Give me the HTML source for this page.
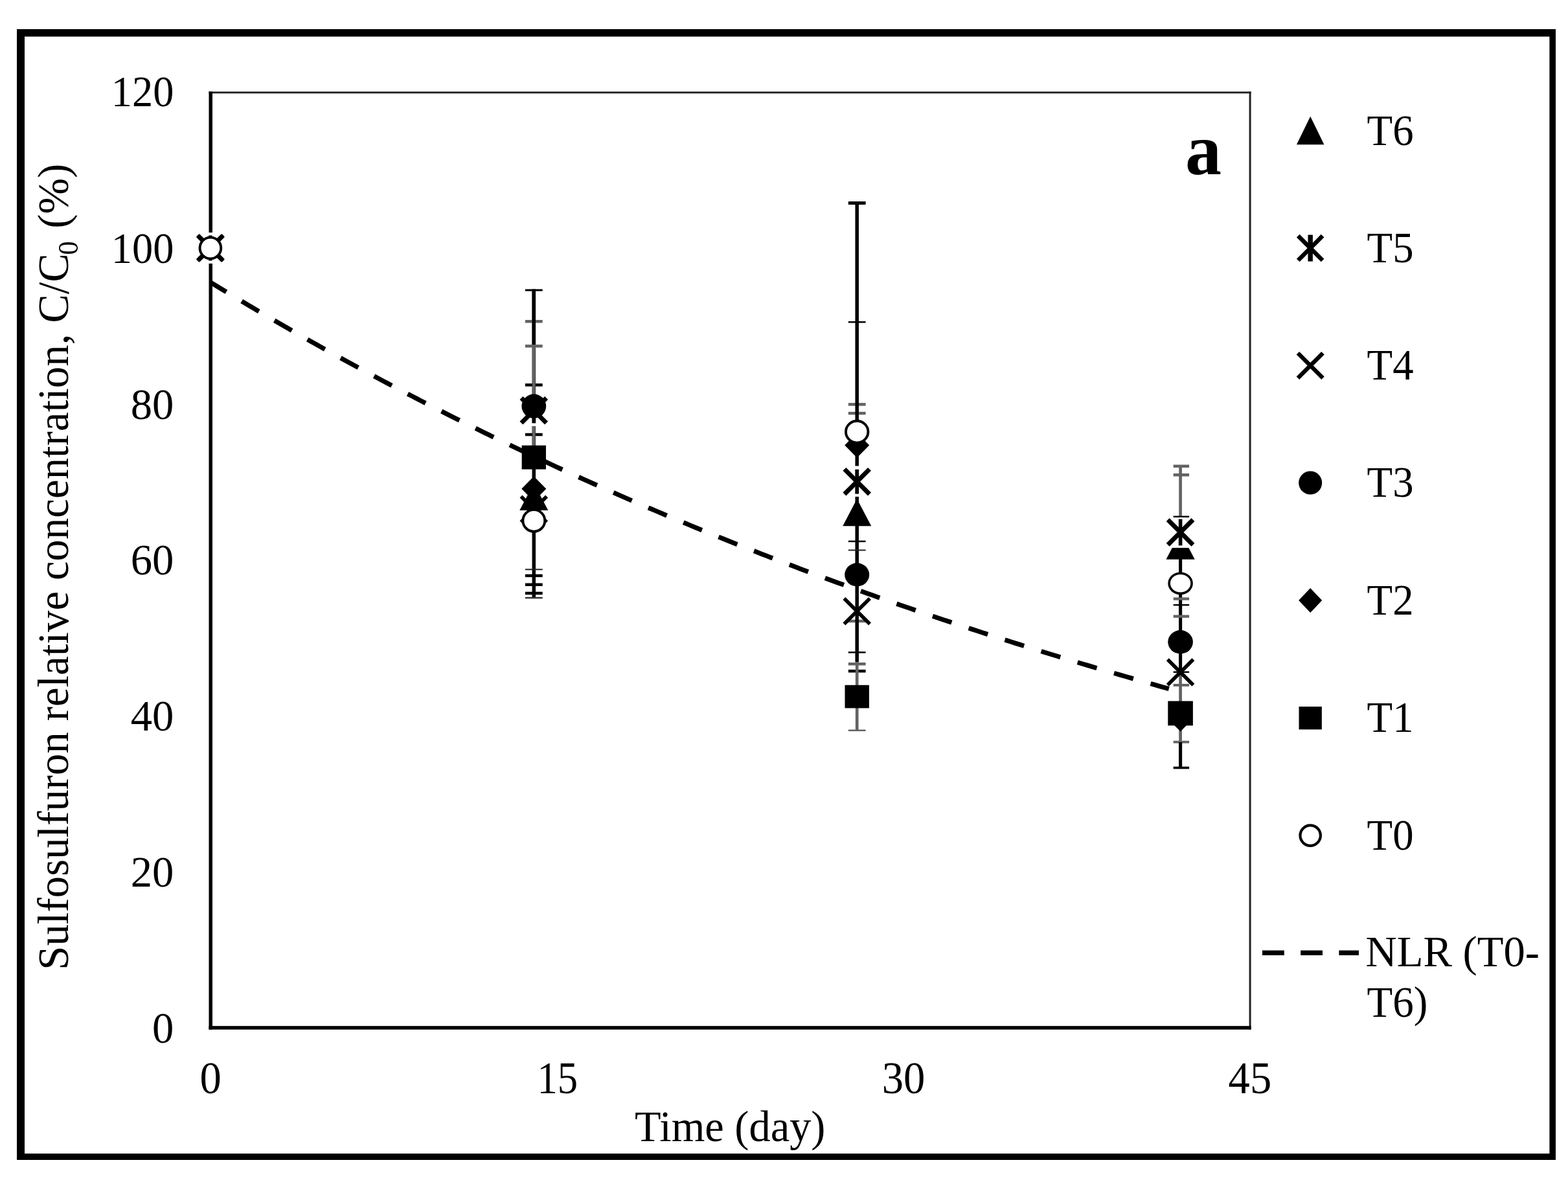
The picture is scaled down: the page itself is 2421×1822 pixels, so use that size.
<!DOCTYPE html>
<html lang="en"><head><meta charset="utf-8"><title>Sulfosulfuron relative concentration</title>
<style>html,body{margin:0;padding:0;background:#fff}body{width:2421px;height:1822px;overflow:hidden}svg{display:block}text{font-family:"Liberation Serif",serif;fill:#000}</style>
</head><body>
<svg width="2421" height="1822" viewBox="0 0 2421 1822">
<rect x="0" y="0" width="2421" height="1822" fill="#fff"/>
<g fill="#000">
<rect x="26" y="45" width="2376" height="11.5"/>
<rect x="26" y="1781.2" width="2376" height="9.8"/>
<rect x="26" y="45" width="12" height="1746"/>
<rect x="2392.4" y="45" width="9.6" height="1746"/>
</g>
<g>
<rect x="322.5" y="141.4" width="1609.1" height="2.9" fill="#222"/>
<rect x="1928.6" y="141.4" width="3" height="1448.3" fill="#222"/>
<rect x="322.5" y="141.4" width="5.5" height="1448.3" fill="#000"/>
<rect x="322.5" y="1584.2" width="1609.1" height="5.5" fill="#000"/>
</g>
<rect x="319.90" y="359.10" width="10.00" height="47.80" fill="#fff"/>
<path d="M305.60 363.70L344.20 402.30M305.60 402.30L344.20 363.70" stroke="#000" stroke-width="7.00" fill="none" stroke-linecap="butt"/>
<rect x="322.15" y="363.50" width="5.50" height="39.00" fill="#000"/>
<path d="M305.10 363.20L344.70 402.80M305.10 402.80L344.70 363.20" stroke="#000" stroke-width="5.60" fill="none" stroke-linecap="butt"/>
<ellipse cx="324.90" cy="383.00" rx="16.35" ry="16.35" fill="#fff" stroke="#000" stroke-width="3.90"/>
<rect x="821.55" y="448.00" width="5.50" height="476.00" fill="#000"/>
<rect x="810.90" y="446.50" width="26.80" height="3.00" fill="#000"/>
<rect x="810.90" y="494.05" width="26.80" height="4.50" fill="#636363"/>
<rect x="821.55" y="446.50" width="5.50" height="85.50" fill="#000"/>
<rect x="810.90" y="532.15" width="26.80" height="4.50" fill="#636363"/>
<rect x="810.90" y="592.15" width="26.80" height="4.50" fill="#000"/>
<rect x="810.90" y="668.75" width="26.80" height="4.50" fill="#000"/>
<rect x="821.95" y="534.40" width="4.70" height="155.60" fill="#636363"/>
<rect x="810.90" y="878.30" width="26.80" height="2.00" fill="#222"/>
<rect x="810.90" y="886.65" width="26.80" height="4.50" fill="#000"/>
<rect x="810.90" y="900.45" width="26.80" height="4.50" fill="#000"/>
<rect x="810.90" y="913.75" width="26.80" height="4.50" fill="#000"/>
<rect x="810.90" y="921.85" width="26.80" height="2.50" fill="#333"/>
<polygon points="824.30,746.00 846.30,788.00 802.30,788.00" fill="#000"/>
<rect x="819.30" y="609.00" width="10.00" height="48.90" fill="#fff"/>
<path d="M805.00 614.50L843.60 653.10M805.00 653.10L843.60 614.50" stroke="#000" stroke-width="7.00" fill="none" stroke-linecap="butt"/>
<rect x="821.40" y="614.20" width="5.80" height="39.20" fill="#000"/>
<path d="M804.50 766.60L844.10 806.20M804.50 806.20L844.10 766.60" stroke="#000" stroke-width="5.60" fill="none" stroke-linecap="butt"/>
<ellipse cx="824.30" cy="627.20" rx="18.85" ry="18.70" fill="#000"/>
<polygon points="824.30,735.50 843.30,754.80 824.30,774.10 805.30,754.80" fill="#000"/>
<rect x="805.65" y="687.75" width="37.30" height="36.90" fill="#000"/>
<ellipse cx="824.30" cy="803.90" rx="16.95" ry="16.75" fill="#fff" stroke="#000" stroke-width="3.90"/>
<rect x="1309.80" y="622.15" width="26.80" height="4.50" fill="#636363"/>
<rect x="1309.80" y="635.85" width="26.80" height="4.50" fill="#636363"/>
<rect x="1309.80" y="956.75" width="26.80" height="4.50" fill="#636363"/>
<rect x="1320.45" y="313.50" width="5.50" height="708.50" fill="#000"/>
<rect x="1309.80" y="311.00" width="26.80" height="5.00" fill="#000"/>
<rect x="1309.80" y="496.05" width="26.80" height="2.50" fill="#000"/>
<rect x="1309.80" y="834.65" width="26.80" height="2.50" fill="#000"/>
<rect x="1309.80" y="848.50" width="26.80" height="2.00" fill="#222"/>
<rect x="1309.80" y="1006.05" width="26.80" height="2.50" fill="#000"/>
<rect x="1309.80" y="1033.95" width="26.80" height="4.50" fill="#000"/>
<rect x="1320.85" y="1022.00" width="4.70" height="106.00" fill="#636363"/>
<rect x="1309.80" y="1022.95" width="26.80" height="4.50" fill="#636363"/>
<rect x="1309.80" y="1126.55" width="26.80" height="2.50" fill="#636363"/>
<polygon points="1323.20,770.30 1345.20,812.30 1301.20,812.30" fill="#000"/>
<rect x="1318.20" y="719.50" width="10.00" height="47.40" fill="#fff"/>
<path d="M1303.90 724.40L1342.50 763.00M1303.90 763.00L1342.50 724.40" stroke="#000" stroke-width="7.00" fill="none" stroke-linecap="butt"/>
<rect x="1320.30" y="724.80" width="5.80" height="37.80" fill="#000"/>
<path d="M1303.40 923.90L1343.00 963.50M1303.40 963.50L1343.00 923.90" stroke="#000" stroke-width="5.60" fill="none" stroke-linecap="butt"/>
<ellipse cx="1323.20" cy="887.40" rx="19.00" ry="18.10" fill="#000"/>
<polygon points="1323.20,668.10 1342.20,687.40 1323.20,706.70 1304.20,687.40" fill="#000"/>
<rect x="1304.50" y="1057.80" width="37.40" height="35.60" fill="#000"/>
<ellipse cx="1323.20" cy="666.80" rx="17.20" ry="16.85" fill="#fff" stroke="#000" stroke-width="3.90"/>
<rect x="1820.25" y="719.80" width="4.70" height="77.80" fill="#636363"/>
<rect x="1811.70" y="717.55" width="24.40" height="4.50" fill="#636363"/>
<rect x="1811.70" y="731.05" width="24.40" height="4.50" fill="#636363"/>
<rect x="1820.05" y="860.00" width="5.10" height="180.00" fill="#000"/>
<rect x="1811.70" y="922.45" width="24.40" height="4.30" fill="#636363"/>
<rect x="1811.70" y="932.85" width="24.40" height="2.50" fill="#000"/>
<rect x="1811.70" y="949.55" width="24.40" height="4.30" fill="#636363"/>
<rect x="1811.70" y="1036.45" width="24.40" height="2.50" fill="#000"/>
<rect x="1820.25" y="1040.00" width="4.70" height="106.00" fill="#636363"/>
<rect x="1811.70" y="1055.90" width="24.40" height="4.00" fill="#636363"/>
<rect x="1811.70" y="1143.80" width="24.40" height="3.80" fill="#636363"/>
<rect x="1820.05" y="1146.00" width="5.10" height="39.70" fill="#000"/>
<rect x="1811.70" y="1183.70" width="24.40" height="3.60" fill="#000"/>
<polygon points="1822.60,821.20 1844.70,863.80 1800.50,863.80" fill="#000"/>
<rect x="1798.10" y="798.80" width="49" height="47.1" fill="#fff"/>
<rect x="1811.70" y="796.50" width="24.40" height="2.40" fill="#000"/>
<path d="M1803.20 802.50L1842.00 841.30M1803.20 841.30L1842.00 802.50" stroke="#000" stroke-width="7.00" fill="none" stroke-linecap="butt"/>
<rect x="1819.80" y="801.50" width="5.60" height="40.80" fill="#000"/>
<path d="M1802.80 1018.20L1842.40 1057.80M1802.80 1057.80L1842.40 1018.20" stroke="#000" stroke-width="5.60" fill="none" stroke-linecap="butt"/>
<ellipse cx="1822.60" cy="991.30" rx="19.30" ry="18.20" fill="#000"/>
<polygon points="1822.60,1091.00 1841.60,1110.30 1822.60,1129.60 1803.60,1110.30" fill="#000"/>
<rect x="1803.30" y="1082.50" width="38.60" height="37.80" fill="#000"/>
<ellipse cx="1822.60" cy="900.80" rx="17.50" ry="15.60" fill="#fff" stroke="#000" stroke-width="3.60"/>
<path d="M324.90 435.85 L332.30 440.38 L339.70 444.89 L347.10 449.38 L354.50 453.85 L361.90 458.31 L369.30 462.75 L376.70 467.17 L384.10 471.57 L391.50 475.96 L398.89 480.33 L406.29 484.68 L413.69 489.02 L421.09 493.34 L428.49 497.64 L435.89 501.92 L443.29 506.19 L450.69 510.44 L458.09 514.67 L465.49 518.89 L472.89 523.09 L480.29 527.27 L487.69 531.44 L495.09 535.59 L502.49 539.73 L509.89 543.85 L517.29 547.95 L524.69 552.03 L532.08 556.10 L539.48 560.16 L546.88 564.20 L554.28 568.22 L561.68 572.23 L569.08 576.22 L576.48 580.19 L583.88 584.15 L591.28 588.10 L598.68 592.02 L606.08 595.94 L613.48 599.83 L620.88 603.72 L628.28 607.58 L635.68 611.43 L643.08 615.27 L650.48 619.09 L657.88 622.90 L665.27 626.69 L672.67 630.47 L680.07 634.23 L687.47 637.98 L694.87 641.71 L702.27 645.43 L709.67 649.13 L717.07 652.82 L724.47 656.49 L731.87 660.15 L739.27 663.80 L746.67 667.43 L754.07 671.04 L761.47 674.64 L768.87 678.23 L776.27 681.81 L783.67 685.37 L791.07 688.91 L798.46 692.44 L805.86 695.96 L813.26 699.47 L820.66 702.96 L828.06 706.43 L835.46 709.90 L842.86 713.35 L850.26 716.78 L857.66 720.20 L865.06 723.61 L872.46 727.01 L879.86 730.39 L887.26 733.76 L894.66 737.11 L902.06 740.46 L909.46 743.79 L916.86 747.10 L924.26 750.40 L931.65 753.69 L939.05 756.97 L946.45 760.24 L953.85 763.49 L961.25 766.73 L968.65 769.95 L976.05 773.17 L983.45 776.37 L990.85 779.55 L998.25 782.73 L1005.65 785.89 L1013.05 789.04 L1020.45 792.18 L1027.85 795.31 L1035.25 798.42 L1042.65 801.52 L1050.05 804.61 L1057.45 807.69 L1064.84 810.75 L1072.24 813.80 L1079.64 816.85 L1087.04 819.87 L1094.44 822.89 L1101.84 825.90 L1109.24 828.89 L1116.64 831.87 L1124.04 834.84 L1131.44 837.80 L1138.84 840.74 L1146.24 843.68 L1153.64 846.60 L1161.04 849.51 L1168.44 852.41 L1175.84 855.30 L1183.24 858.18 L1190.64 861.05 L1198.04 863.90 L1205.43 866.75 L1212.83 869.58 L1220.23 872.40 L1227.63 875.21 L1235.03 878.01 L1242.43 880.80 L1249.83 883.57 L1257.23 886.34 L1264.63 889.10 L1272.03 891.84 L1279.43 894.57 L1286.83 897.30 L1294.23 900.01 L1301.63 902.71 L1309.03 905.40 L1316.43 908.08 L1323.83 910.75 L1331.23 913.41 L1338.62 916.06 L1346.02 918.70 L1353.42 921.33 L1360.82 923.95 L1368.22 926.55 L1375.62 929.15 L1383.02 931.74 L1390.42 934.32 L1397.82 936.88 L1405.22 939.44 L1412.62 941.99 L1420.02 944.52 L1427.42 947.05 L1434.82 949.57 L1442.22 952.07 L1449.62 954.57 L1457.02 957.06 L1464.42 959.53 L1471.81 962.00 L1479.21 964.46 L1486.61 966.91 L1494.01 969.35 L1501.41 971.78 L1508.81 974.20 L1516.21 976.60 L1523.61 979.01 L1531.01 981.40 L1538.41 983.78 L1545.81 986.15 L1553.21 988.51 L1560.61 990.87 L1568.01 993.21 L1575.41 995.55 L1582.81 997.87 L1590.21 1000.19 L1597.61 1002.50 L1605.00 1004.80 L1612.40 1007.09 L1619.80 1009.37 L1627.20 1011.64 L1634.60 1013.90 L1642.00 1016.15 L1649.40 1018.40 L1656.80 1020.64 L1664.20 1022.86 L1671.60 1025.08 L1679.00 1027.29 L1686.40 1029.49 L1693.80 1031.68 L1701.20 1033.87 L1708.60 1036.04 L1716.00 1038.21 L1723.40 1040.37 L1730.80 1042.52 L1738.19 1044.66 L1745.59 1046.79 L1752.99 1048.92 L1760.39 1051.03 L1767.79 1053.14 L1775.19 1055.24 L1782.59 1057.33 L1789.99 1059.41 L1797.39 1061.49 L1804.79 1063.56" fill="none" stroke="#000" stroke-width="7.20" stroke-dasharray="31.00 27.73" stroke-dashoffset="2.30"/>
<g font-size="66.67">
<text transform="translate(268.30 1609.55) scale(1.0000 1.0250)" text-anchor="end">0</text>
<text transform="translate(268.30 1369.35) scale(1.0000 1.0250)" text-anchor="end">20</text>
<text transform="translate(268.30 1128.45) scale(1.0000 1.0250)" text-anchor="end">40</text>
<text transform="translate(268.30 886.55) scale(1.0000 1.0250)" text-anchor="end">60</text>
<text transform="translate(268.30 646.55) scale(1.0000 1.0250)" text-anchor="end">80</text>
<text transform="translate(268.30 405.95) scale(0.9650 1.0250)" text-anchor="end">100</text>
<text transform="translate(268.30 163.70) scale(0.9650 1.0250)" text-anchor="end">120</text>
<text transform="translate(325.20 1687.90) scale(1.0000 1.0380)" text-anchor="middle">0</text>
<text transform="translate(860.80 1687.90) scale(0.9400 1.0380)" text-anchor="middle">15</text>
<text transform="translate(1395.00 1687.90) scale(1.0000 1.0380)" text-anchor="middle">30</text>
<text transform="translate(1929.90 1687.90) scale(1.0000 1.0380)" text-anchor="middle">45</text>
<text transform="translate(1127.20 1761.90) scale(0.9960 1.0280)" text-anchor="middle">Time (day)</text>
<text transform="translate(104.6 875.2) rotate(-90) scale(1 1.0280)" text-anchor="middle" letter-spacing="0.08">Sulfosulfuron relative concentration, C/C<tspan font-size="43" dy="15" dx="-2.6">0</tspan><tspan dy="-15" dx="2.6"> (%)</tspan></text>
<text transform="translate(2110.60 223.60) scale(0.9720 1.0280)" text-anchor="start">T6</text>
<text transform="translate(2110.60 404.80) scale(0.9720 1.0280)" text-anchor="start">T5</text>
<text transform="translate(2110.60 586.00) scale(0.9720 1.0280)" text-anchor="start">T4</text>
<text transform="translate(2110.60 767.20) scale(0.9720 1.0280)" text-anchor="start">T3</text>
<text transform="translate(2110.60 948.90) scale(0.9720 1.0280)" text-anchor="start">T2</text>
<text transform="translate(2110.60 1129.60) scale(0.9720 1.0280)" text-anchor="start">T1</text>
<text transform="translate(2110.60 1311.70) scale(0.9720 1.0280)" text-anchor="start">T0</text>
<text transform="translate(2108.60 1491.70) scale(1.0000 1.0280)" text-anchor="start">NLR (T0-</text>
<text transform="translate(2110.60 1570.40) scale(0.9750 1.0280)" text-anchor="start">T6)</text>
</g>
<text transform="translate(1830 269.3) scale(1 1.01)" font-size="112" font-weight="bold">a</text>
<polygon points="2023.20,179.80 2044.45,223.20 2001.95,223.20" fill="#000"/>
<path d="M2004.30 364.20L2042.10 402.00M2004.30 402.00L2042.10 364.20" stroke="#000" stroke-width="6.60" fill="none" stroke-linecap="butt"/>
<rect x="2019.50" y="362.60" width="7.40" height="41.00" fill="#000"/>
<path d="M2003.90 545.20L2042.50 583.80M2003.90 583.80L2042.50 545.20" stroke="#000" stroke-width="6.40" fill="none" stroke-linecap="butt"/>
<ellipse cx="2023.20" cy="745.50" rx="18.00" ry="18.00" fill="#000"/>
<polygon points="2023.20,908.10 2041.20,927.10 2023.20,946.10 2005.20,927.10" fill="#000"/>
<rect x="2005.55" y="1091.05" width="35.30" height="35.30" fill="#000"/>
<ellipse cx="2023.20" cy="1290.10" rx="15.70" ry="15.70" fill="#fff" stroke="#000" stroke-width="4.20"/>
<path d="M1949 1471.2H2098" fill="none" stroke="#000" stroke-width="7.6" stroke-dasharray="33.8 25.4"/>
</svg>
</body></html>
